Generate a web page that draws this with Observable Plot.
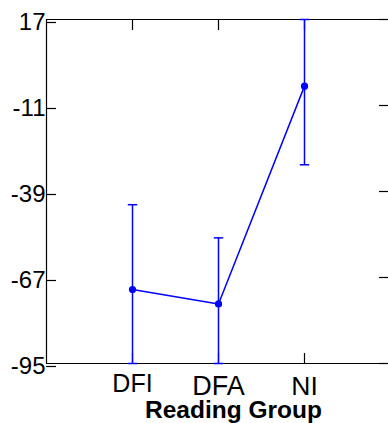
<!DOCTYPE html>
<html>
<head>
<meta charset="utf-8">
<script src="https://cdn.jsdelivr.net/npm/d3@7"></script>
<script src="https://cdn.jsdelivr.net/npm/@observablehq/plot@0.6"></script>
<style>
  html, body { margin: 0; padding: 0; background: #fff; overflow: hidden; }
  #chart svg { display: block; }
</style>
</head>
<body>
<div id="chart"></div>
<script>
const groups = ["DFI", "DFA", "NI"];
const positions = [1, 2, 3];
const means = [-70.9, -75.6, -4.7];
const errors = [27.6, 21.5, 25.6];
const yTicks = [17, -11, -39, -67, -95];
const xLabel = "Reading Group";

const data = groups.map((g, i) => ({
  group: g,
  pos: positions[i],
  mean: means[i],
  lo: means[i] - errors[i],
  hi: means[i] + errors[i]
}));

// label styling (sizes / offsets), kept apart from the data
const tickLabelStyle = [
  { fontSize: 25, dy: 28 },
  { fontSize: 27, dy: 31.5 },
  { fontSize: 26.5, dy: 31 }
];

const blue = "#0000ff";
const font = "'Liberation Sans', Arial, sans-serif";
const cap = {
  draw(context, size) {
    const w = Math.sqrt(size / Math.PI);
    context.moveTo(-w, 0);
    context.lineTo(w, 0);
  }
};

const chart = Plot.plot({
  width: 388,
  height: 423,
  marginLeft: 46,
  marginRight: 0,
  marginTop: 19,
  marginBottom: 60,
  style: { fontFamily: font, background: "#fff", overflow: "visible" },
  x: { type: "linear", domain: [0, 4], range: [46, 390] },
  y: { domain: [-95, 17], clamp: true },
  marks: [
    Plot.ruleY([-95, 17], { stroke: "black", strokeWidth: 1.2 }),
    Plot.ruleX([0], { stroke: "black", strokeWidth: 1.2 }),
    Plot.axisY({ anchor: "left", ticks: yTicks, tickSize: -10, tickPadding: 11, fontSize: 24, dy: 3, label: null, tickFormat: d => String(d), strokeWidth: 1.2, fill: "black" }),
    Plot.axisY({ anchor: "right", ticks: yTicks, tickSize: -10, tickFormat: () => "", label: null, strokeWidth: 1.2 }),
    Plot.axisX({ anchor: "bottom", ticks: positions, tickSize: -10, tickFormat: () => "", label: null, strokeWidth: 1.2 }),
    Plot.axisX({ anchor: "top", ticks: positions, tickSize: -10, tickFormat: () => "", label: null, strokeWidth: 1.2 }),
    ...data.map((d, i) => Plot.text([d], {
      x: "pos", text: "group", frameAnchor: "bottom", lineAnchor: "bottom",
      fontSize: tickLabelStyle[i].fontSize, dy: tickLabelStyle[i].dy, fill: "black"
    })),
    Plot.ruleX(data, { x: "pos", y1: "lo", y2: "hi", stroke: blue, strokeWidth: 1.5 }),
    Plot.dot(data, { x: "pos", y: "lo", symbol: cap, r: 4.7, stroke: blue, strokeWidth: 1.5, fill: "none" }),
    Plot.dot(data, { x: "pos", y: "hi", symbol: cap, r: 4.7, stroke: blue, strokeWidth: 1.5, fill: "none" }),
    Plot.line(data, { x: "pos", y: "mean", stroke: blue, strokeWidth: 1.5 }),
    Plot.dot(data, { x: "pos", y: "mean", r: 3.6, fill: blue, stroke: "none" }),
    Plot.text([xLabel], { frameAnchor: "bottom", dx: 16, dy: 54.5, lineAnchor: "bottom", fontSize: 24.5, fontWeight: "bold", fill: "black", text: d => d })
  ]
});
document.getElementById("chart").appendChild(chart);
</script>
</body>
</html>
